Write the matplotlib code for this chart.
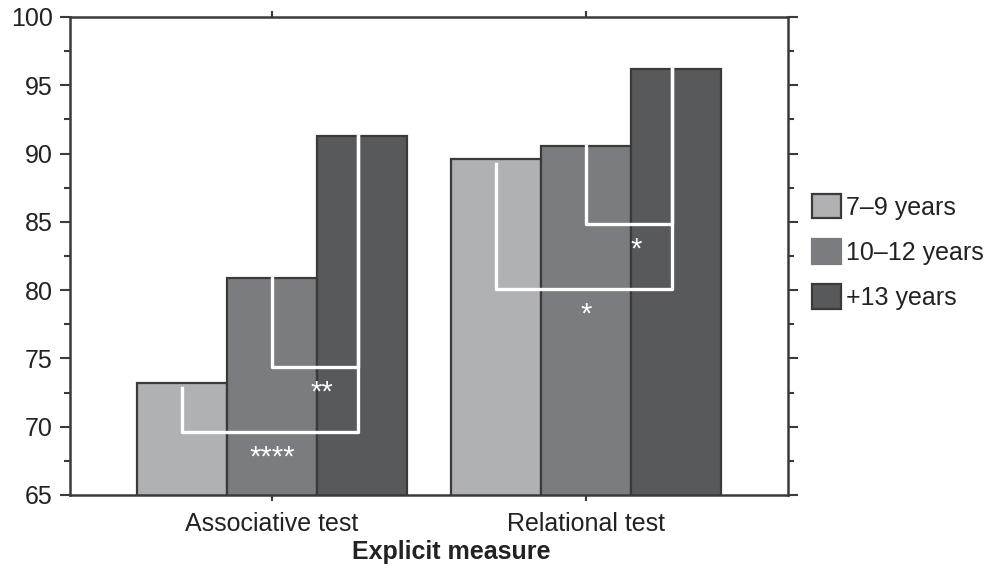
import matplotlib
matplotlib.use("Agg")
import matplotlib.pyplot as plt
import numpy as np
from matplotlib.patches import Patch
from matplotlib.ticker import MultipleLocator

plt.rcParams['font.family'] = ['Liberation Sans', 'DejaVu Sans']

categories = ["Associative test", "Relational test"]
groups = ["7\u20139 years", "10\u201312 years", "+13 years"]
scores = {
    "7\u20139 years": [73.2, 89.6],
    "10\u201312 years": [80.9, 90.55],
    "+13 years": [91.3, 96.2],
}
colors = ["#b0b1b3", "#7b7c7f", "#58595b"]

# significance brackets: (category, left group, right group, bracket level, label)
sig_cat = [0, 0, 1, 1]
sig_left = [1, 0, 1, 0]
sig_right = [2, 2, 2, 2]
sig_level = [74.4, 69.6, 84.85, 80.1]
sig_label = ["**", "****", "*", "*"]

dark = "#3a3a3a"
width = 0.2866
x = np.arange(len(categories))

fig = plt.figure(figsize=(9.89, 5.70), dpi=100)
ax = fig.add_axes([0.0708, 0.1316, 0.7260, 0.8386])

for i, g in enumerate(groups):
    ax.bar(x + (i - 1) * width, scores[g], width, color=colors[i],
           edgecolor=dark, linewidth=1.6, zorder=2)

# white brackets with stars
for c, l, r, lev, lab in zip(sig_cat, sig_left, sig_right, sig_level, sig_label):
    xl = x[c] + (l - 1) * width
    xr = x[c] + (r - 1) * width - 0.012
    yl = scores[groups[l]][c] - (0.4 if l == 0 else 0)
    yr = scores[groups[r]][c]
    ax.plot([xl, xl, xr, xr], [yl, lev, lev, yr], color="white",
            lw=2.4, solid_joinstyle="round", zorder=3)
    if l == 1:
        tx = x[c] + 0.5 * width + 0.015
    else:
        tx = x[c]
    ax.text(tx, lev - 2.45, lab, color="white", fontsize=21, ha="center",
            va="baseline", zorder=4)

ax.set_xlim(-0.643, 1.643)
ax.set_ylim(65, 100)
ax.set_xticks(x)
ax.set_xticklabels(categories, fontsize=18, color="#222222")
ax.yaxis.set_major_locator(MultipleLocator(5))
ax.yaxis.set_minor_locator(MultipleLocator(2.5))
ax.tick_params(axis="y", which="both", left=True, right=True, direction="out",
               color=dark, width=1.5, labelsize=18, labelcolor="#222222", pad=5)
ax.tick_params(axis="y", which="major", length=7.5)
ax.tick_params(axis="y", which="minor", length=4.5)
ax.tick_params(axis="x", which="both", top=True, bottom=True, direction="out",
               length=4, width=1.5, color=dark, pad=8)
for s in ax.spines.values():
    s.set_color(dark)
    s.set_linewidth(1.8)

ax.set_xlabel("Explicit measure", fontsize=18, fontweight="bold", color="#222222")
ax.xaxis.set_label_coords((451 - 70) / 718, -0.095)

handles = [Patch(facecolor=colors[0], edgecolor=dark, linewidth=1.6),
           Patch(facecolor=colors[1], edgecolor=colors[1], linewidth=1.6),
           Patch(facecolor=colors[2], edgecolor=dark, linewidth=1.6)]
fig.legend(handles, groups, loc="center left", bbox_to_anchor=(0.821, 0.558),
           frameon=False, fontsize=18, handlelength=1.15, handleheight=1.15,
           handletextpad=0.2, labelspacing=0.78, borderpad=0, borderaxespad=0,
           labelcolor="#222222")

fig.savefig("out.png", dpi=100)
